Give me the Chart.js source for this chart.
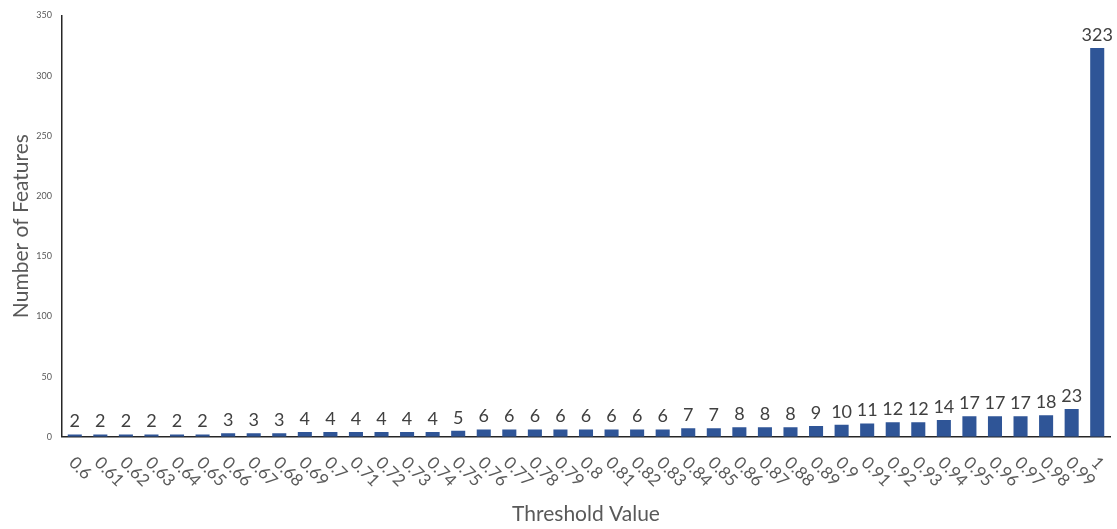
<!DOCTYPE html>
<html>
<head>
<meta charset="utf-8">
<script src="https://cdn.jsdelivr.net/npm/chart.js@4/dist/chart.umd.min.js"></script>
<style>
  html, body { margin: 0; padding: 0; background: #ffffff; }
  #wrap { width: 1117px; height: 529px; position: relative; }
</style>
</head>
<body>
<div id="wrap"><canvas id="chart"></canvas></div>
<script>
// Threshold values on the x axis
const thresholds = [
  '0.6','0.61','0.62','0.63','0.64','0.65','0.66','0.67','0.68','0.69',
  '0.7','0.71','0.72','0.73','0.74','0.75','0.76','0.77','0.78','0.79',
  '0.8','0.81','0.82','0.83','0.84','0.85','0.86','0.87','0.88','0.89',
  '0.9','0.91','0.92','0.93','0.94','0.95','0.96','0.97','0.98','0.99','1'
];

// Number of features kept at each threshold
const featureCounts = [
  2, 2, 2, 2, 2, 2, 3, 3, 3, 4,
  4, 4, 4, 4, 4, 5, 6, 6, 6, 6,
  6, 6, 6, 6, 7, 7, 8, 8, 8, 9,
  10, 11, 12, 12, 14, 17, 17, 17, 18, 23, 323
];

const FONT = 'Lato, "Open Sans", "DejaVu Sans", sans-serif';

// Value labels above each bar
const valueLabels = {
  id: 'valueLabels',
  afterDatasetsDraw(chart) {
    const ctx = chart.ctx;
    const meta = chart.getDatasetMeta(0);
    ctx.save();
    ctx.font = '18px ' + FONT;
    ctx.fillStyle = '#404040';
    ctx.textAlign = 'center';
    ctx.textBaseline = 'bottom';
    meta.data.forEach((bar, i) => {
      ctx.fillText(String(chart.data.datasets[0].data[i]), bar.x, bar.y - 4);
    });
    ctx.restore();
  }
};

// Category labels under the axis, slanted down to the right
const slantedTicks = {
  id: 'slantedTicks',
  afterDraw(chart) {
    const ctx = chart.ctx;
    const xs = chart.scales.x;
    ctx.save();
    ctx.font = '17px ' + FONT;
    ctx.fillStyle = '#595959';
    ctx.textAlign = 'left';
    ctx.textBaseline = 'middle';
    chart.data.labels.forEach((lab, i) => {
      const px = xs.getPixelForTick(i);
      ctx.save();
      ctx.translate(px - 3, xs.top + 23);
      ctx.rotate(Math.PI / 4);
      ctx.fillText(lab, 0, 0);
      ctx.restore();
    });
    ctx.restore();
  }
};

new Chart(document.getElementById('chart'), {
  type: 'bar',
  data: {
    labels: thresholds,
    datasets: [{
      data: featureCounts,
      backgroundColor: '#2F5597',
      borderWidth: 0,
      barPercentage: 0.55,
      categoryPercentage: 1.0
    }]
  },
  options: {
    responsive: true,
    maintainAspectRatio: false,
    animation: false,
    layout: { padding: { top: 0, right: 7, bottom: 2, left: 2 } },
    plugins: {
      legend: { display: false },
      tooltip: { enabled: false }
    },
    scales: {
      x: {
        grid: { display: false, drawTicks: false },
        border: { display: true, color: '#262626', width: 1.5 },
        ticks: { display: false },
        title: {
          display: true,
          text: 'Threshold Value',
          color: '#595959',
          font: { family: FONT, size: 21 },
          padding: { top: 65, bottom: 0 }
        }
      },
      y: {
        min: 0,
        max: 350,
        afterFit(scale) { scale.width = 60; },
        grid: { display: false, drawTicks: false },
        border: { display: true, color: '#262626', width: 1.5 },
        ticks: {
          stepSize: 50,
          color: '#595959',
          font: { family: FONT, size: 9 },
          padding: 10
        },
        title: {
          display: true,
          text: 'Number of Features',
          color: '#595959',
          font: { family: FONT, size: 21 },
          padding: { top: 7, bottom: 0 }
        }
      }
    }
  },
  plugins: [valueLabels, slantedTicks]
});
</script>
</body>
</html>
